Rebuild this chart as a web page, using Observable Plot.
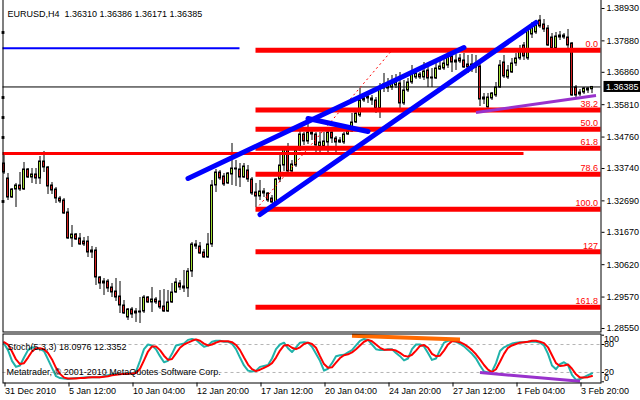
<!DOCTYPE html>
<html><head><meta charset="utf-8">
<script src="https://cdn.jsdelivr.net/npm/d3@7"></script>
<script src="https://cdn.jsdelivr.net/npm/@observablehq/plot@0.6"></script>
<style>
html,body{margin:0;padding:0;background:#fff;}
#chart{width:640px;height:400px;overflow:hidden;line-height:0;}
#chart svg{display:block;}
</style></head><body><div id="chart"></div>
<script>
// ---------- data ----------
const symbol = "EURUSD,H4";
const openP = [1.33902,1.33416,1.32799,1.33059,1.33189,1.33059,1.33708,1.33448,1.33546,1.33416,
1.33967,1.33773,1.33189,1.33059,1.32767,1.32702,1.32313,1.31470,1.31599,1.31470,
1.31372,1.31372,1.31015,1.31080,1.30205,1.30010,1.30075,1.29880,1.29750,1.29588,
1.29296,1.28907,1.29167,1.29037,1.29069,1.29101,1.29556,1.29394,1.29491,1.29426,
1.29264,1.29101,1.29394,1.29718,1.30010,1.29913,1.29848,1.30399,1.31275,1.31210,
1.31015,1.30853,1.31275,1.33189,1.33610,1.33481,1.33254,1.33546,1.33740,1.33708,
1.33448,1.33675,1.33383,1.32962,1.32832,1.32994,1.32929,1.32767,1.32637,1.33383,
1.33837,1.34356,1.33643,1.33837,1.34324,1.34843,1.34616,1.34908,1.34843,1.34454,
1.34454,1.34583,1.34908,1.34713,1.34648,1.34583,1.34843,1.34940,1.35232,1.35459,
1.35946,1.36076,1.36011,1.35946,1.35686,1.36335,1.36335,1.36368,1.36432,1.36497,
1.35849,1.36270,1.36530,1.36692,1.36789,1.36692,1.36919,1.36692,1.36659,1.36951,
1.36984,1.37081,1.37373,1.37243,1.37308,1.37243,1.37114,1.37114,1.37081,1.37049,
1.36043,1.35719,1.36011,1.36108,1.36368,1.37178,1.36692,1.36854,1.37146,1.37308,
1.37730,1.37308,1.38087,1.38152,1.38541,1.38411,1.38281,1.37989,1.37633,1.38054,
1.38054,1.37989,1.37795,1.36368,1.36141,1.36205,1.36335,1.36310];
const highP = [1.34162,1.33578,1.33091,1.33254,1.33610,1.33935,1.33740,1.33740,1.33740,1.34129,
1.34292,1.33805,1.33286,1.33124,1.32832,1.32767,1.32443,1.31891,1.31632,1.31632,
1.31502,1.31535,1.31210,1.31178,1.30237,1.30172,1.30140,1.30010,1.30172,1.30075,
1.29458,1.29199,1.29232,1.29199,1.29556,1.29621,1.29588,1.29880,1.29556,1.29783,
1.29815,1.29783,1.30010,1.30172,1.30107,1.30432,1.30496,1.31340,1.31405,1.31340,
1.31113,1.31632,1.33351,1.33708,1.33675,1.33578,1.33610,1.34551,1.34000,1.33902,
1.33902,1.33837,1.33448,1.33254,1.33351,1.33091,1.32962,1.32864,1.33416,1.34259,
1.34421,1.34551,1.34000,1.34389,1.35070,1.34908,1.35297,1.34973,1.34908,1.34908,
1.34908,1.34940,1.34940,1.34778,1.34746,1.34908,1.35038,1.35524,1.35621,1.36335,
1.36108,1.36205,1.36108,1.36043,1.36497,1.36822,1.36659,1.36757,1.36789,1.36854,
1.36595,1.36659,1.37081,1.36984,1.36854,1.37178,1.37146,1.36984,1.37178,1.37308,
1.37341,1.37568,1.37470,1.37438,1.37438,1.37470,1.37406,1.37438,1.37406,1.37146,
1.36173,1.36173,1.36205,1.36530,1.37243,1.37406,1.37081,1.37308,1.37470,1.37730,
1.37827,1.38346,1.38476,1.38541,1.38703,1.38573,1.38379,1.38119,1.38152,1.38184,
1.38119,1.38249,1.37827,1.36432,1.36303,1.36368,1.36368,1.36386];
const lowP = [1.33546,1.32702,1.32767,1.32475,1.32994,1.33027,1.33416,1.33254,1.33221,1.33221,
1.33610,1.32897,1.32897,1.32605,1.32605,1.32248,1.31437,1.31178,1.31405,1.31243,
1.31210,1.30853,1.30821,1.29945,1.29815,1.29621,1.29718,1.29556,1.29426,1.29037,
1.29004,1.28810,1.28875,1.28745,1.28712,1.29037,1.29361,1.29069,1.29329,1.29167,
1.29069,1.29069,1.29361,1.29686,1.29783,1.29718,1.29556,1.30205,1.31113,1.30951,
1.30821,1.30821,1.31178,1.32962,1.33351,1.33156,1.33221,1.33189,1.33156,1.33124,
1.33416,1.33286,1.32864,1.32475,1.32702,1.32799,1.32637,1.32605,1.32605,1.33286,
1.33643,1.33610,1.33610,1.33773,1.34292,1.34486,1.34519,1.34648,1.34227,1.34227,
1.34389,1.34162,1.34551,1.34259,1.34551,1.34519,1.34811,1.34908,1.35200,1.35394,
1.35881,1.35849,1.35784,1.35524,1.35362,1.36205,1.36205,1.36270,1.36335,1.35686,
1.35784,1.36205,1.36465,1.36627,1.36627,1.36595,1.36368,1.36368,1.36627,1.36919,
1.36919,1.36984,1.36854,1.36919,1.37146,1.36984,1.36822,1.36854,1.36822,1.35751,
1.35816,1.35686,1.35946,1.36043,1.36335,1.36659,1.36627,1.36822,1.37049,1.37243,
1.37243,1.37243,1.37957,1.38087,1.38281,1.38152,1.37697,1.37600,1.37600,1.37892,
1.37925,1.37633,1.36076,1.36043,1.36076,1.36141,1.36173,1.36171];
const closeP = [1.33610,1.32799,1.33059,1.33189,1.33059,1.33708,1.33448,1.33546,1.33416,1.33967,
1.33773,1.33156,1.33027,1.32767,1.32670,1.32280,1.31470,1.31599,1.31437,1.31275,
1.31275,1.31015,1.31080,1.30205,1.30010,1.30075,1.29848,1.29718,1.29556,1.29296,
1.29037,1.29167,1.29004,1.29101,1.29101,1.29556,1.29394,1.29491,1.29394,1.29232,
1.29101,1.29394,1.29718,1.30042,1.29880,1.29848,1.30399,1.31275,1.31210,1.30983,
1.30853,1.31275,1.33189,1.33610,1.33416,1.33221,1.33578,1.33740,1.33708,1.33448,
1.33805,1.33383,1.32929,1.32832,1.32994,1.32929,1.32702,1.32637,1.33383,1.33837,
1.34356,1.33643,1.33870,1.34324,1.34843,1.34616,1.34908,1.34843,1.34486,1.34583,
1.34616,1.34908,1.34713,1.34583,1.34583,1.34843,1.34940,1.35232,1.35524,1.35946,
1.36011,1.36011,1.35946,1.35686,1.36303,1.36465,1.36432,1.36497,1.36530,1.35849,
1.36270,1.36530,1.36822,1.36822,1.36692,1.36887,1.36659,1.36659,1.36984,1.37049,
1.37146,1.37341,1.37178,1.37178,1.37211,1.37016,1.37016,1.37016,1.37016,1.35978,
1.35978,1.36043,1.36173,1.36368,1.37081,1.36724,1.36919,1.37146,1.37308,1.37568,
1.37373,1.38216,1.38314,1.38379,1.38346,1.38249,1.37730,1.37633,1.38022,1.37989,
1.37989,1.37730,1.36108,1.36108,1.36205,1.36335,1.36270,1.36385];

const stochK = [82,68,45,32,35,52,68,74,72,70,
66,48,30,12,8,7,6,7,8,8,
9,10,10,10,10,12,14,16,17,17,
17,18,18,22,45,70,80,78,70,55,
42,45,60,78,80,82,90,92,90,82,
75,78,86,88,88,86,86,82,70,52,
35,24,22,24,32,34,36,50,70,80,
84,72,64,74,84,85,84,75,60,45,
24,28,40,55,57,58,63,68,78,88,
92,90,80,70,68,68,70,70,62,55,
46,50,70,80,80,76,62,47,50,68,
84,88,88,86,82,76,68,60,50,35,
22,20,22,40,66,74,78,82,84,85,
85,86,86,86,84,78,60,35,27,38,
42,36,15,4,6,10,14,18.0976];
const stochD = [85,80,65,48,38,40,52,65,72,72,
70,62,48,30,17,9,7,7,7,8,
8,9,10,10,10,11,12,14,15,16,
17,17,18,19,28,46,65,76,76,68,
56,47,49,61,73,80,84,88,91,88,
82,78,80,84,87,87,87,85,79,68,
52,37,27,23,26,30,34,40,52,67,
78,79,73,70,74,81,84,81,73,55,
38,30,31,41,51,57,59,63,70,78,
86,90,87,80,73,69,69,69,67,62,
56,54,58,67,77,79,73,60,55,56,
67,80,87,87,85,81,75,68,59,48,
36,26,21,27,43,60,73,78,81,84,
85,86,88,88,86,83,74,57,40,34,
35,37,28,16,9,9,10,12.3352];
const stochLevels = [20, 80];
const stochAxisLabels = [0, 20, 80, 100];

const timeTickBars = [0,16,32,48,64,80,96,112,128,144];
const timeLabels = ["31 Dec 2010","5 Jan 12:00","10 Jan 04:00","12 Jan 20:00","17 Jan 12:00","20 Jan 04:00","24 Jan 20:00","27 Jan 12:00","1 Feb 04:00","3 Feb 20:00"];
const priceTicks = [1.38930,1.37880,1.36860,1.35810,1.34760,1.33740,1.32690,1.31670,1.30620,1.29570,1.28550];

// drawing objects on the chart (bar index, price)
const fibNames = ["0.0","38.2","50.0","61.8","78.6","100.0","127","161.8"];
const fibPrices = [1.37574,1.35638,1.35015,1.34399,1.33555,1.32420,1.31038,1.29241];
const fibStartBar = 63;
const fibBase = [{bar1:63, p1:1.32420, bar2:97, p2:1.37574}];
const blueHLine = [{bar:59, price:1.37640}];
const redHLine = [{bar:130, price:1.34227}];
const blueLines = [
  {bar1:46, p1:1.33416, bar2:115, p2:1.37665},
  {bar1:64, p1:1.32248, bar2:133, p2:1.38476},
  {bar1:76, p1:1.35362, bar2:91, p2:1.34940}
];
const purpleLine = [{bar1:118, p1:1.35557, bar2:148, p2:1.36108}];
const stochPurple = [{bar1:119, v1:20, bar2:144, v2:1}];
const stochOrange = [{bar1:87, v1:99, bar2:114, v2:91}];
const leftMarkers = [1.38152,1.36043,1.35394,1.34746,1.32670];

// ---------- build ----------
const N = openP.length;
const bars = openP.map((o,i)=>({i, o, h:highP[i], l:lowP[i], c:closeP[i]}));
const fibs = fibNames.map((name,k)=>({name, price:fibPrices[k]}));
const last = bars[N-1];
const fmt5 = d => d.toFixed(5);
const titleText = symbol + "\u00a0 " + [last.o,last.h,last.l,last.c].map(fmt5).join(" ");
const stochText = "Stoch(5,3,3) " + stochK[N-1].toFixed(4) + " " + stochD[N-1].toFixed(4);
const rayEnd = N + 20; // fib levels are rays: clipped at the frame's right edge

const FONT = "'Liberation Sans', Arial, sans-serif";
const UP = "#a0dc32", DOWN = "#d42020";
const xScale = {type:"linear", domain:[0, N-1], range:[3.5, 3.5 + 4*(N-1)]};

function priceBox(index, scales, values, dimensions) {
  const ns = "http://www.w3.org/2000/svg";
  const g = document.createElementNS(ns, "g");
  const y = scales.y(last.c);
  const x0 = dimensions.width - dimensions.marginRight + 3;
  const r = document.createElementNS(ns, "rect");
  r.setAttribute("x", x0); r.setAttribute("y", y - 5.5);
  r.setAttribute("width", dimensions.width - x0); r.setAttribute("height", 11);
  r.setAttribute("fill", "black");
  const t = document.createElementNS(ns, "text");
  t.setAttribute("x", x0 + 2.5); t.setAttribute("y", y); t.setAttribute("dy", "0.34em");
  t.setAttribute("text-anchor", "start");
  t.setAttribute("fill", "white"); t.setAttribute("font-size", "9px");
  t.textContent = fmt5(last.c);
  g.append(r, t);
  return g;
}

const main = Plot.plot({
  width: 640, height: 333,
  marginLeft: 2.5, marginRight: 39.5, marginTop: 0, marginBottom: 1.5,
  x: {...xScale, axis: null},
  y: {type:"linear", domain:[1.28550, 1.38930], range:[328, 8], axis: null},
  style: {fontFamily: FONT, fontSize: "9px", background: "white", color: "black", overflow: "visible"},
  marks: [
    Plot.ruleX(bars, {x:"i", y1:"l", y2:"h", stroke:"black", strokeWidth:1}),
    Plot.rect(bars, {x1: d=>d.i-0.25, x2: d=>d.i+0.25, y1:"o", y2:"c",
      fill: d => d.c >= d.o ? UP : DOWN, stroke:"black", strokeWidth:1}),
    Plot.ruleY([last.c], {stroke:"black", strokeWidth:1}),
    Plot.ruleY(blueHLine, {y:"price", x1: () => -2, x2:"bar", stroke:"#0000ff", strokeWidth:2, clip:"frame"}),
    Plot.ruleY(redHLine, {y:"price", x1: () => -2, x2:"bar", stroke:"#ff0000", strokeWidth:3, clip:"frame"}),
    Plot.ruleY(fibs, {y:"price", x1: () => fibStartBar, x2: () => rayEnd, stroke:"#ff0000", strokeWidth:5, clip:"frame"}),
    Plot.text(fibs, {y:"price", text:"name", frameAnchor:"right", dx:-3, dy:-6, textAnchor:"end", fill:"#ff0000", fontSize:9}),
    Plot.link(fibBase, {x1:"bar1", y1:"p1", x2:"bar2", y2:"p2", stroke:"#ff0000", strokeWidth:1, strokeDasharray:"2,3"}),
    Plot.link(blueLines, {x1:"bar1", y1:"p1", x2:"bar2", y2:"p2", stroke:"#0000ff", strokeWidth:5, strokeLinecap:"round"}),
    Plot.link(purpleLine, {x1:"bar1", y1:"p1", x2:"bar2", y2:"p2", stroke:"#9932cc", strokeWidth:3}),
    Plot.dot(leftMarkers, {y: d=>d, frameAnchor:"left", symbol:"square", r:1.6, fill:"black", stroke:"none"}),
    Plot.frame({stroke:"black", insetTop:-3}),
    Plot.axisY({anchor:"right", ticks: priceTicks, tickFormat: fmt5, tickSize:3, tickPadding:2.5, fontSize:9}),
    priceBox,
    Plot.text([titleText], {frameAnchor:"top-left", dx:4.5, dy:10.5, textAnchor:"start", fontSize:9})
  ]
});

const stoch = Plot.plot({
  width: 640, height: 67,
  marginLeft: 2.5, marginRight: 39.5, marginTop: 0.5, marginBottom: 17.5,
  x: {...xScale, axis: null},
  y: {type:"linear", domain:[0,100], range:[48.3, 1.7], axis: null},
  style: {fontFamily: FONT, fontSize: "9px", background: "white", color: "black", overflow: "visible"},
  marks: [
    Plot.ruleY(stochLevels, {stroke:"#b4b4b4", strokeDasharray:"3,3", strokeWidth:1}),
    Plot.line(stochK, {x:(d,i)=>i, y:d=>d, stroke:"#20b2aa", strokeWidth:2}),
    Plot.line(stochD, {x:(d,i)=>i, y:d=>d, stroke:"#ff0000", strokeWidth:2}),
    Plot.link(stochOrange, {x1:"bar1", y1:"v1", x2:"bar2", y2:"v2", stroke:"#ff6a00", strokeWidth:4}),
    Plot.link(stochPurple, {x1:"bar1", y1:"v1", x2:"bar2", y2:"v2", stroke:"#9932cc", strokeWidth:3}),
    Plot.text([stochText], {frameAnchor:"top-left", dx:4.5, dy:10, textAnchor:"start", fontSize:9}),
    Plot.text(["Metatrader, \u00a9 2001-2010 MetaQuotes Software Corp."], {frameAnchor:"bottom-left", dx:3.5, dy:-8, textAnchor:"start", fontSize:9}),
    Plot.frame({stroke:"black"}),
    Plot.axisX({anchor:"bottom", ticks: timeTickBars, tickFormat: b => timeLabels[timeTickBars.indexOf(b)], tickSize:4, tickPadding:1, textAnchor:"start", dx:1, fontSize:9}),
    Plot.axisY({anchor:"right", ticks: stochAxisLabels, tickFormat: () => "", tickSize:2.5}),
    Plot.text(stochAxisLabels.filter(v => v > 0 && v < 100), {y: d=>d, text: d=>String(d), frameAnchor:"right", dx:3, textAnchor:"start", fontSize:9}),
    Plot.text(stochAxisLabels.filter(v => v === 100), {y: d=>d, text: d=>String(d), frameAnchor:"right", dx:3, dy:4, textAnchor:"start", fontSize:9}),
    Plot.text(stochAxisLabels.filter(v => v === 0), {y: d=>d, text: d=>String(d), frameAnchor:"right", dx:3, dy:-4, textAnchor:"start", fontSize:9})
  ]
});

const root = document.getElementById("chart");
root.append(main, stoch);
</script>
</body></html>
